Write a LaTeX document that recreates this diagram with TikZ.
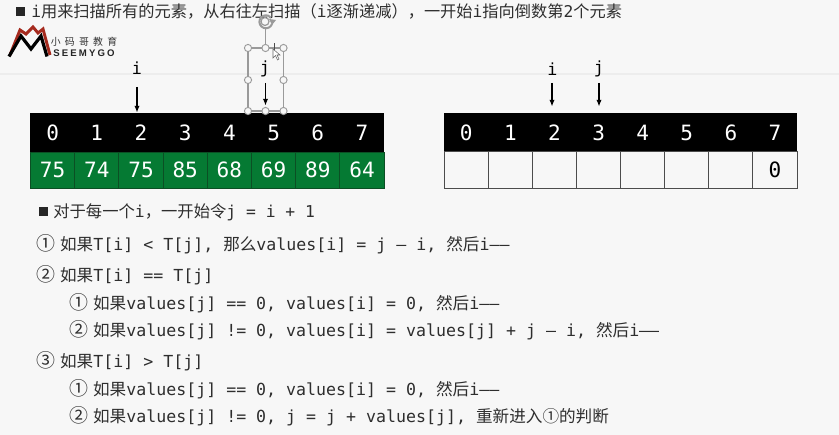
\documentclass[tikz,border=0pt]{standalone}
\usepackage{fontspec}
\setmainfont{DejaVu Sans Mono}
\newfontfamily\mono{DejaVu Sans Mono}
\newfontfamily\cjkf{Noto Sans CJK SC}
\newfontfamily\logofont[LetterSpace=22]{Liberation Sans}
\newcommand{\zh}[1]{{\cjkf #1}}
\newcommand{\cn}[1]{{\fontsize{14.2}{15}\selectfont\cjkf #1}\hspace{3.7pt}}
\definecolor{bgc}{HTML}{F7F7F7}
\definecolor{txt}{HTML}{2E2E2E}
\definecolor{gcell}{HTML}{057A33}
\definecolor{gline}{HTML}{0B4F24}
\definecolor{handle}{HTML}{9A9A9A}
\definecolor{logored}{HTML}{A52A1E}
\usetikzlibrary{arrows.meta}
\tikzset{
  x=0.75pt,y=-0.75pt,
  line/.style={anchor=base west,inner sep=0pt,text=txt,font=\fontsize{12.45}{15}\selectfont\mono},
  lineone/.style={anchor=base west,inner sep=0pt,text=txt,font=\fontsize{12.25}{15}\selectfont\mono},
  head/.style={anchor=base west,inner sep=0pt,text=txt,font=\fontsize{12.17}{15}\selectfont\mono},
  cellbase/.style={minimum width=33.19pt,inner sep=0pt,font=\fontsize{15.8}{18}\selectfont\mono,anchor=center},
  hcell/.style={cellbase,fill=black,text=white,minimum height=29.5pt},
  gcellbox/.style={cellbase,fill=gcell,draw=gline,line width=0.6pt,text=white,minimum height=27pt},
  wcell/.style={cellbase,fill=bgc,draw=black!70,line width=0.8pt,text=black,minimum height=27.5pt},
  ptrlabel/.style={inner sep=0pt,text=black,font=\fontsize{12.5}{15}\selectfont\mono},
  ptr/.style={draw=black,line width=0.9pt,-{Latex[length=5pt,width=4pt]}},
  grip/.style={circle,draw=handle,fill=bgc,line width=0.7pt,minimum size=5.4pt,inner sep=0pt},
}
\begin{document}
\begin{tikzpicture}
\useasboundingbox (0,0) rectangle (839,435);
\fill[bgc] (0,0) rectangle (839,435);
\draw[black!7,line width=0.8pt] (0,74) -- (839,74);

% header
\fill[black!85] (16,7) rectangle (25,16);
\node[head] (title) at (31,18) {i\zh{用来扫描所有的元素，从右往左扫描（}i\zh{逐渐递减），一开始}i\zh{指向倒数第}2\zh{个元素}};

% logo
\draw[logored,line width=2.2pt,line join=miter] (10,55) -- (20,30) -- (26,34) -- (33,27) -- (38,33) -- (43,29) -- (50,55);
\draw[black,line width=2.4pt,line join=miter] (9,56.5) -- (21,36) -- (31,49) -- (41,36) -- (47,56.5);
\node[inner sep=0pt,anchor=center,text=black!80,font=\fontsize{7.4}{8}\selectfont\cjkf] (logozh) at (84,41.5) {小\hspace{3.2pt}码\hspace{3.2pt}哥\hspace{3.2pt}教\hspace{3.2pt}育};
\node[inner sep=0pt,anchor=center,text=black!85,font=\fontsize{7.2}{9}\selectfont\logofont\bfseries] (logoen) at (84,53.5) {SEEMYGO};

% left array
\foreach \n/\v [count=\k from 0] in {0/75,1/74,2/75,3/85,4/68,5/69,6/89,7/64} {
  \node[hcell] (LH\n) at ({52.6+44.2*\k},132.5) {\n};
  \node[gcellbox] (LV\n) at ({52.6+44.2*\k},170) {\v};
}
% right array
\foreach \n [count=\k from 0] in {0,1,2,3,4,5,6,7} {
  \node[hcell] (RH\n) at ({466.3+44.1*\k},132.5) {\n};
  \node[wcell] (RV\n) at ({466.3+44.1*\k},169.7) {\ifnum\n=7 0\fi};
}

% pointers
\node[ptrlabel] (iL) at (137,68) {i};
\node[ptrlabel] (jL) at (265,69) {j};
\node[ptrlabel] (iR) at (552.5,69) {i};
\node[ptrlabel] (jR) at (599,69) {j};
\coordinate (iLa) at (137,87); \coordinate (iLb) at (137,112.5);
\coordinate (jLa) at (265.5,83); \coordinate (jLb) at (265.5,105.5);
\coordinate (iRa) at (552,83); \coordinate (iRb) at (552,106.5);
\coordinate (jRa) at (599,83); \coordinate (jRb) at (599,106.5);
\draw[ptr] (iLa) -- (iLb);
\draw[ptr] (jLa) -- (jLb);
\draw[ptr] (iRa) -- (iRb);
\draw[ptr] (jRa) -- (jRb);

% selection frame
\draw[handle,line width=0.8pt] (248,48) rectangle (283.5,111);
\draw[handle,line width=0.8pt] (265.5,27) -- (265.5,48);
\foreach \p/\a/\b in {a/248/48,b/265.5/48,c/283.5/48,d/248/80,e/283.5/80,f/248/111,g/265.5/111,h/283.5/111}
  \node[grip] (S\p) at (\a,\b) {};
\draw[handle,line width=1.5pt] (272,24) arc (20:320:6.5);
\draw[handle,line width=0.9pt] (265,21.5) circle (3pt);
\fill[handle] (269,19) -- (276,20) -- (272,25) -- cycle;
% cursor
\fill[black!70] (274,43) rectangle (274.8,52);
\filldraw[draw=black!60,fill=white,line width=0.4pt] (273,49) -- (273,58) -- (275.5,55.5) -- (277.5,60) -- (279,59) -- (277,55) -- (280,55) -- cycle;

% body
\fill[black!85] (38.5,207) rectangle (47.5,216);
\node[lineone] (l1) at (53,217.5) {\zh{对于每一个}i\zh{，一开始令}j = i + 1};
\node[line] (l2) at (36,250) {\cn{①}\zh{如果}T[i] < T[j], \zh{那么}values[i] = j — i, \zh{然后}i——};
\node[line] (l3) at (36,281.5) {\cn{②}\zh{如果}T[i] == T[j]};
\node[line] (l4) at (69,309) {\cn{①}\zh{如果}values[j] == 0, values[i] = 0, \zh{然后}i——};
\node[line] (l5) at (69,336) {\cn{②}\zh{如果}values[j] != 0, values[i] = values[j] + j — i, \zh{然后}i——};
\node[line] (l6) at (36,367.5) {\cn{③}\zh{如果}T[i] > T[j]};
\node[line] (l7) at (69,395) {\cn{①}\zh{如果}values[j] == 0, values[i] = 0, \zh{然后}i——};
\node[line] (l8) at (69,422.5) {\cn{②}\zh{如果}values[j] != 0, j = j + values[j], \zh{重新进入①的判断}};
\end{tikzpicture}
\end{document}
